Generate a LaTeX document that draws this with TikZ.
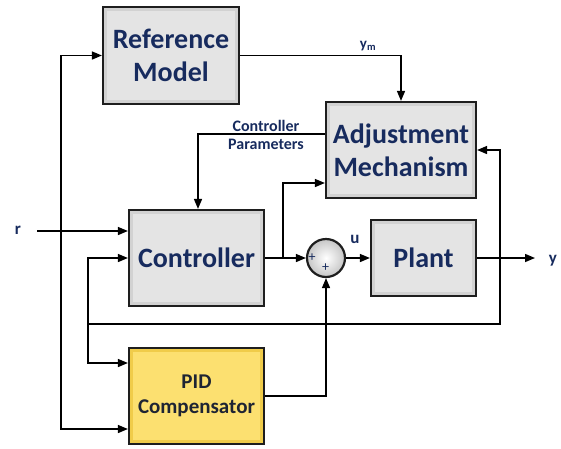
\documentclass[tikz,border=0pt]{standalone}
\usepackage{fontspec}
\setmainfont{Carlito}
\usetikzlibrary{arrows.meta,calc}
\definecolor{navy}{HTML}{172B5E}
\definecolor{boxedge}{HTML}{1E1E1E}
\definecolor{boxfill}{HTML}{D2D2D2}
\definecolor{boxin}{HTML}{E4E4E4}
\definecolor{pidfill}{HTML}{F0CC4A}
\definecolor{pidin}{HTML}{FCE070}
\definecolor{pidtext}{HTML}{1E2433}
\tikzset{
  blk/.style={draw=boxedge, line width=2.2pt, fill=boxfill, inner sep=0pt, align=center,
    text=navy, font=\bfseries\fontsize{28}{33}\selectfont,
    path picture={\fill[boxin] ([shift={(4pt,-4pt)}]path picture bounding box.north west)
      rectangle ([shift={(-4pt,4pt)}]path picture bounding box.south east);}},
  pidblk/.style={blk, fill=pidfill, text=pidtext, font=\bfseries\fontsize{21}{25}\selectfont,
    path picture={\fill[pidin] ([shift={(4pt,-4pt)}]path picture bounding box.north west)
      rectangle ([shift={(-4pt,4pt)}]path picture bounding box.south east);}},
  sumnode/.style={circle, draw=boxedge, line width=2.2pt, inner sep=0pt, minimum size=38pt,
    inner color=white, outer color=gray!45},
  arr/.style={line width=1.5pt, draw=black, -{Triangle[length=10pt,width=8pt]}},
  ln/.style={line width=1.5pt, draw=black},
  lab/.style={text=navy, font=\bfseries\fontsize{17}{20}\selectfont, inner sep=0pt},
  small/.style={text=navy, font=\bfseries\fontsize{16}{18}\selectfont, align=center, inner sep=0pt},
  plus/.style={text=navy, font=\fontsize{14}{14}\selectfont, inner sep=0pt}
}
\begin{document}
\begin{tikzpicture}[x=1pt,y=-1pt]
\useasboundingbox (0,0) rectangle (561,448);
% blocks
\node[blk, minimum width=136pt, minimum height=97pt] (ref) at (171,55.5) {Reference\\Model};
\node[blk, minimum width=150pt, minimum height=96pt] (adj) at (401,150) {Adjustment\\Mechanism};
\node[blk, minimum width=135pt, minimum height=96pt] (ctrl) at (196.5,258) {Controller};
\node[blk, minimum width=105pt, minimum height=76pt] (plant) at (423.5,258) {Plant};
\node[pidblk, minimum width=135pt, minimum height=96pt] (pid) at (196.5,396) {PID\\Compensator};
\node[sumnode] (sum) at (326,258) {};
\node[plus] (p1) at (312,258) {+};
\node[plus] (p2) at (325.5,268) {+};
% labels
\node[lab] (rlab) at (18,230) {r};
\node[lab] (ylab) at (553,261) {y};
\node[lab] (ulab) at (355,239) {u};
\node[text=navy, font=\bfseries\fontsize{15}{17}\selectfont, inner sep=0pt] (ymlab) at (368,46) {y\textsubscript{m}};
\node[small] (cplab) at (266,135) {Controller\\Parameters};
% coordinates
\coordinate (r0) at (37,231);
\coordinate (rj) at (61,231);
\coordinate (b1) at (283,258);
\coordinate (fb) at (500,258);
\coordinate (fb1) at (500,324);
\coordinate (fb2) at (88,324);
\coordinate (yend) at (535,258);
% connectors
\draw[arr] (r0) -- (r0 -| ctrl.west);
\draw[arr] (rj) |- (ref.west);
\draw[arr] (rj) |- ($(pid.west)+(0,33)$);
\draw[arr] (ref.east) -| (adj.north);
\draw[arr] ($(adj.west)+(0,-16)$) -| ($(ctrl.north)+(1.5,0)$);
\draw[arr] (ctrl.east) -- (sum.west);
\draw[arr] (b1) |- ($(adj.west)+(0,33)$);
\draw[arr] (sum.east) -- (plant.west);
\draw[arr] (plant.east) -- (yend);
\draw[arr] (fb) |- (adj.east);
\draw[ln] (fb) -- (fb1) -- (fb2);
\draw[arr] (fb2) |- (ctrl.west);
\draw[arr] (fb2) |- ($(pid.west)+(0,-33)$);
\draw[arr] (pid.east) -| (sum.south);
\end{tikzpicture}
\end{document}
